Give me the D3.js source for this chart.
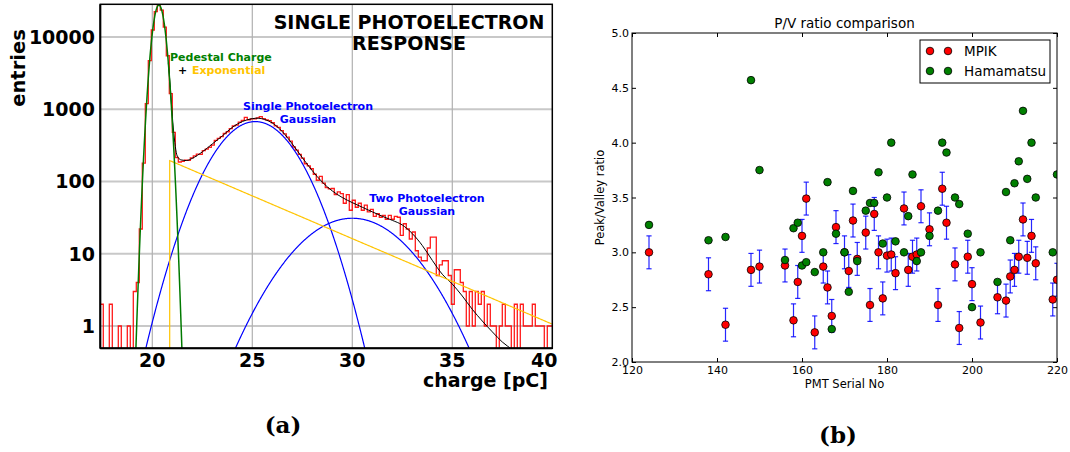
<!DOCTYPE html>
<html>
<head>
<meta charset="utf-8">
<script src="https://cdn.jsdelivr.net/npm/d3@7"></script>
<style>
  body { margin: 0; background: #fff; }
  svg { display: block; }
</style>
</head>
<body>
<svg id="fig" width="1070" height="452"></svg>
<script>
// ===== Panel (a): single photoelectron charge spectrum =====
const histLow = 17.4;          // pC, lower edge of first bin
const histBinWidth = 0.15;     // pC
const histCounts = [
  2, 0, 0, 2, 0, 0, 1, 0, 0, 1,
  0, 3, 4, 22, 180, 1200, 4700, 12500, 22500, 27700,
  23500, 13700, 5500, 1650, 480, 215, 186, 190, 198, 196,
  212, 226, 240, 238, 268, 280, 296, 318, 372, 396,
  418, 462, 488, 540, 590, 604, 662, 700, 770, 712,
  738, 735, 760, 790, 740, 712, 695, 650, 590, 560,
  505, 455, 410, 362, 300, 272, 238, 210, 176, 165,
  150, 126, 104, 118, 95, 82, 79, 80, 66, 72,
  68, 50, 66, 40, 55, 44, 50, 40, 47, 38,
  41, 33, 36, 32, 34, 30, 34, 30, 33, 32,
  18, 26, 22, 16, 20, 11, 9, 8, 8, 12,
  17, 17, 5, 7, 8, 8, 5, 2, 6, 6,
  4, 3, 1, 3, 1, 3, 2, 3, 1, 2,
  1, 1, 0, 1, 2, 1, 1, 0, 2, 0,
  2, 1, 1, 1, 2, 1, 1, 1, 0, 1, 1
];
const chargeTicks = [20, 25, 30, 35, 40];
const entryTicks = [1, 10, 100, 1000, 10000];

// fit components: Gaussians (amp, mean, sigma) and an exponential switched on at `start`
const pedestalFit = { amp: 27700, mean: 20.33, sigma: 0.2457 };
const singlePeFit = { amp: 675, mean: 25.15, sigma: 1.44 };
const doublePeFit = { amp: 31, mean: 30.0, sigma: 2.03 };
const expFit = { start: 20.87, amp: 195, slope: -0.2726 };

// combined fit function, [charge, entries]
const totalFit = [
  [20.8, 4400], [20.9, 2000], [21.0, 800], [21.1, 400], [21.2, 250], [21.3, 212],
  [21.45, 199], [21.7, 195], [22.0, 209], [22.5, 257], [23.0, 331], [23.5, 427],
  [24.0, 562], [24.5, 676], [25.0, 741], [25.3, 752], [25.6, 724], [26.0, 646],
  [26.5, 490], [27.0, 331], [27.5, 214], [28.0, 141], [28.5, 98], [29.0, 74],
  [29.5, 60], [30.0, 51], [30.5, 44], [31.0, 38], [31.5, 33], [32.0, 29],
  [32.5, 25], [33.0, 19], [33.5, 13], [34.0, 8.1], [34.5, 5.2], [35.0, 3.8],
  [35.5, 2.6], [36.0, 1.7], [36.5, 1.17], [37.0, 0.83], [37.5, 0.60], [38.0, 0.47],
  [38.5, 0.36]
];

// ===== Panel (b): peak/valley ratio per PMT =====
const serialTicks = [120, 140, 160, 180, 200, 220];
const ratioTicks = [2.0, 2.5, 3.0, 3.5, 4.0, 4.5, 5.0];

const mpikSerial = [124, 138, 142, 148, 150, 156, 158, 159, 160, 161, 163, 165, 166, 167, 168, 170,
  171, 172, 173, 175, 176, 177, 178, 179, 180, 181, 182, 184, 185, 186, 187, 188, 190, 192, 193,
  194, 196, 197, 199, 200, 202, 206, 208, 209, 210, 211, 212, 213, 214, 215, 219, 220];
const mpikRatio = [3.00, 2.80, 2.34, 2.84, 2.87, 2.88, 2.38, 2.73, 3.15, 3.49, 2.27, 2.87, 2.68, 2.42, 3.23, 3.00,
  2.83, 3.29, 2.94, 3.18, 2.52, 3.35, 3.00, 2.58, 2.97, 2.98, 2.81, 3.40, 2.84, 2.96, 2.98, 3.42, 3.21, 2.52, 3.58,
  3.27, 2.89, 2.31, 2.96, 2.71, 2.36, 2.59, 2.56, 2.78, 2.84, 2.96, 3.30, 2.95, 3.15, 2.90, 2.57, 2.75];
const mpikErr = mpikSerial.map(() => 0.15);

const hamaSerial = [124, 138, 142, 148, 150, 156, 158, 159, 160, 161, 163, 165, 166, 167, 168, 170,
  171, 172, 173, 175, 176, 177, 178, 179, 180, 181, 182, 184, 185, 186, 187, 188, 190, 192, 193,
  194, 196, 197, 199, 200, 202, 206, 208, 209, 210, 211, 212, 213, 214, 215, 219, 220];
const hamaRatio = [3.25, 3.11, 3.14, 4.57, 3.75, 2.93, 3.22, 3.27, 2.88, 2.91, 2.82, 3.00, 3.64, 2.30, 3.17, 3.00,
  2.64, 3.56, 2.92, 3.38, 3.45, 3.45, 3.73, 3.08, 3.50, 4.00, 3.10, 3.00, 3.33, 3.71, 2.92, 3.00, 3.15, 3.38, 4.00,
  3.91, 3.50, 3.44, 3.17, 2.50, 3.00, 2.73, 3.55, 3.11, 3.63, 3.83, 4.29, 3.67, 4.00, 3.50, 3.00, 3.71];

const svg = d3.select("#fig");

// ---------------- panel (a) ----------------
(function drawSpectrum() {
  const L = 100.3, R = 552.3, T = 4.3, B = 348.3;
  const x = d3.scaleLinear().domain([17.4, 40.0]).range([L, R]);
  const y = d3.scaleLog().domain([0.491, 28360]).range([B, T]);
  const floor = 0.3;
  const yc = v => y(Math.max(v, floor));

  const g = svg.append("g");
  g.append("clipPath").attr("id", "clipA")
    .append("rect").attr("x", L).attr("y", T).attr("width", R - L).attr("height", B - T);

  // grid
  g.selectAll("line.gy").data(entryTicks).join("line")
    .attr("x1", L).attr("x2", R).attr("y1", d => y(d)).attr("y2", d => y(d))
    .attr("stroke", "#c8c8c8").attr("stroke-width", 2);
  g.selectAll("line.gx").data(chargeTicks.filter(d => d < 40)).join("line")
    .attr("x1", d => x(d)).attr("x2", d => x(d)).attr("y1", T).attr("y2", B)
    .attr("stroke", "#b0b0b0").attr("stroke-width", 1.2);

  const plot = g.append("g").attr("clip-path", "url(#clipA)");

  // histogram outline
  let d = `M${x(histLow)},${B + 2}`;
  histCounts.forEach((c, i) => {
    const x0 = x(histLow + i * histBinWidth), x1 = x(histLow + (i + 1) * histBinWidth);
    const yy = c > 0 ? y(c) : B + 2;
    d += `L${x0},${yy}L${x1},${yy}`;
  });
  plot.append("path").attr("d", d).attr("fill", "none")
    .attr("stroke", "#ff0000").attr("stroke-width", 1.3).attr("stroke-opacity", 0.9);

  const line = d3.line().x(p => x(p[0])).y(p => yc(p[1]));
  const gauss = f => q => f.amp * Math.exp(-((q - f.mean) ** 2) / (2 * f.sigma * f.sigma));
  const grid = d3.range(17.4, 40.0001, 0.02);

  // total fit
  plot.append("path").datum(totalFit)
    .attr("d", d3.line().x(p => x(p[0])).y(p => yc(p[1])).curve(d3.curveMonotoneX))
    .attr("fill", "none").attr("stroke", "#000").attr("stroke-width", 1);

  // single and double photoelectron Gaussians
  [singlePeFit, doublePeFit].forEach(f => {
    plot.append("path").datum(grid.map(q => [q, gauss(f)(q)]))
      .attr("d", line).attr("fill", "none").attr("stroke", "#0000ff").attr("stroke-width", 1.2);
  });

  // exponential background, zero below its start
  const expPts = [[expFit.start, floor]].concat(
    d3.range(expFit.start, 40.0001, 0.05).map(q => [q, expFit.amp * Math.exp(expFit.slope * (q - expFit.start))]));
  plot.append("path").datum(expPts).attr("d", line)
    .attr("fill", "none").attr("stroke", "#ffc400").attr("stroke-width", 1.2);

  // pedestal Gaussian
  plot.append("path").datum(grid.map(q => [q, gauss(pedestalFit)(q)]))
    .attr("d", line).attr("fill", "none").attr("stroke", "#007a00").attr("stroke-width", 1.5);

  // frame
  g.append("rect").attr("x", L).attr("y", T).attr("width", R - L).attr("height", B - T)
    .attr("fill", "none").attr("stroke", "#000").attr("stroke-width", 1.5);
  g.append("line").attr("x1", L).attr("x2", L).attr("y1", T).attr("y2", B)
    .attr("stroke", "#000").attr("stroke-width", 2);
  g.append("line").attr("x1", L).attr("x2", R).attr("y1", B).attr("y2", B)
    .attr("stroke", "#000").attr("stroke-width", 2);

  const bold = "'DejaVu Sans', sans-serif";
  g.selectAll("text.ty").data(entryTicks).join("text")
    .attr("x", 95).attr("y", v => y(v)).attr("dy", "0.36em")
    .attr("text-anchor", "end").attr("font-family", bold).attr("font-weight", "bold")
    .attr("font-size", 19).text(v => v);
  g.selectAll("text.tx").data(chargeTicks).join("text")
    .attr("x", v => v === 40 ? x(v) - 8 : x(v)).attr("y", 367)
    .attr("text-anchor", "middle").attr("font-family", bold).attr("font-weight", "bold")
    .attr("font-size", 19).text(v => v);

  g.append("text").attr("transform", "translate(25,68) rotate(-90)")
    .attr("text-anchor", "middle").attr("font-family", bold).attr("font-weight", "bold")
    .attr("font-size", 19.5).text("entries");
  g.append("text").attr("x", 548).attr("y", 387).attr("text-anchor", "end")
    .attr("font-family", bold).attr("font-weight", "bold").attr("font-size", 19).text("charge [pC]");

  g.append("text").attr("x", 409).attr("y", 29).attr("text-anchor", "middle")
    .attr("font-family", bold).attr("font-weight", "bold").attr("font-size", 19).text("SINGLE PHOTOELECTRON");
  g.append("text").attr("x", 409).attr("y", 50).attr("text-anchor", "middle")
    .attr("font-family", bold).attr("font-weight", "bold").attr("font-size", 19).text("RESPONSE");

  const note = (tx, ty, s, col, anchor) => g.append("text").attr("x", tx).attr("y", ty)
    .attr("text-anchor", anchor || "start").attr("font-family", bold).attr("font-weight", "bold")
    .attr("font-size", 11).attr("fill", col).text(s);
  note(170, 61, "Pedestal Charge", "#008000");
  note(178, 74, "+", "#000");
  note(192, 74, "Exponential", "#ffc400");
  note(308, 110, "Single Photoelectron", "#0000ff", "middle");
  note(308, 123, "Gaussian", "#0000ff", "middle");
  note(427, 202, "Two Photoelectron", "#0000ff", "middle");
  note(427, 215, "Gaussian", "#0000ff", "middle");
})();

// ---------------- panel (b) ----------------
(function drawRatio() {
  const L = 632, R = 1057, T = 33, B = 362;
  const x = d3.scaleLinear().domain([120, 220]).range([L, R]);
  const y = d3.scaleLinear().domain([2, 5]).range([B, T]);
  const font = "'DejaVu Sans', sans-serif";
  const g = svg.append("g");

  g.append("clipPath").attr("id", "clipB")
    .append("rect").attr("x", L).attr("y", T).attr("width", R - L).attr("height", B - T);

  const fmt = d3.format(".1f");
  const axes = [
    g.append("g").attr("transform", `translate(0,${B})`)
      .call(d3.axisBottom(x).tickValues(serialTicks).tickSizeInner(-4).tickSizeOuter(0).tickPadding(4)),
    g.append("g").attr("transform", `translate(0,${T})`)
      .call(d3.axisTop(x).tickValues(serialTicks).tickSizeInner(-4).tickSizeOuter(0).tickFormat("")),
    g.append("g").attr("transform", `translate(${L},0)`)
      .call(d3.axisLeft(y).tickValues(ratioTicks).tickSizeInner(-4).tickSizeOuter(0).tickPadding(3).tickFormat(fmt)),
    g.append("g").attr("transform", `translate(${R},0)`)
      .call(d3.axisRight(y).tickValues(ratioTicks).tickSizeInner(-4).tickSizeOuter(0).tickFormat(""))
  ];
  axes.forEach(a => {
    a.select(".domain").remove();
    a.selectAll("text").attr("font-family", font).attr("font-size", 11).attr("fill", "#000");
    a.selectAll("line").attr("stroke", "#000");
  });

  const plot = g.append("g").attr("clip-path", "url(#clipB)");

  // error bars
  const eb = plot.append("g").attr("stroke", "#0000ff").attr("stroke-width", 1.2).attr("stroke-opacity", 0.85);
  mpikSerial.forEach((s, i) => {
    const cx = x(s), y0 = y(mpikRatio[i] - mpikErr[i]), y1 = y(mpikRatio[i] + mpikErr[i]);
    eb.append("line").attr("x1", cx).attr("x2", cx).attr("y1", y0).attr("y2", y1);
    eb.append("line").attr("x1", cx - 2.6).attr("x2", cx + 2.6).attr("y1", y0).attr("y2", y0);
    eb.append("line").attr("x1", cx - 2.6).attr("x2", cx + 2.6).attr("y1", y1).attr("y2", y1);
  });

  const r = 3.8;
  plot.selectAll("circle.m").data(mpikSerial).join("circle")
    .attr("cx", s => x(s)).attr("cy", (s, i) => y(mpikRatio[i])).attr("r", r)
    .attr("fill", "#ff0000").attr("stroke", "#000").attr("stroke-width", 0.8);
  plot.selectAll("circle.h").data(hamaSerial).join("circle")
    .attr("cx", s => x(s)).attr("cy", (s, i) => y(hamaRatio[i])).attr("r", r)
    .attr("fill", "#008000").attr("stroke", "#000").attr("stroke-width", 0.8);

  g.append("rect").attr("x", L).attr("y", T).attr("width", R - L).attr("height", B - T)
    .attr("fill", "none").attr("stroke", "#000").attr("stroke-width", 1);

  g.append("text").attr("x", (L + R) / 2).attr("y", 28).attr("text-anchor", "middle")
    .attr("font-family", font).attr("font-size", 13.5).text("P/V ratio comparison");
  g.append("text").attr("x", (L + R) / 2).attr("y", 388).attr("text-anchor", "middle")
    .attr("font-family", font).attr("font-size", 11.5).text("PMT Serial No");
  g.append("text").attr("transform", `translate(604,${(T + B) / 2}) rotate(-90)`).attr("text-anchor", "middle")
    .attr("font-family", font).attr("font-size", 11.5).text("Peak/Valley ratio");

  // legend
  const lg = g.append("g");
  lg.append("rect").attr("x", 920).attr("y", 40).attr("width", 130).attr("height", 43)
    .attr("fill", "#fff").attr("stroke", "#000").attr("stroke-width", 1);
  [["MPIK", "#ff0000", 51], ["Hamamatsu", "#008000", 71]].forEach(([name, col, ly]) => {
    [930, 948].forEach(mx => lg.append("circle").attr("cx", mx).attr("cy", ly).attr("r", r)
      .attr("fill", col).attr("stroke", "#000").attr("stroke-width", 0.8));
    lg.append("text").attr("x", 964).attr("y", ly).attr("dy", "0.36em")
      .attr("font-family", font).attr("font-size", 13.5).text(name);
  });
})();

// sub-figure captions
svg.append("text").attr("x", 283).attr("y", 433).attr("text-anchor", "middle")
  .attr("font-family", "'DejaVu Serif', serif").attr("font-weight", "bold").attr("font-size", 23).text("(a)");
svg.append("text").attr("x", 838).attr("y", 443).attr("text-anchor", "middle")
  .attr("font-family", "'DejaVu Serif', serif").attr("font-weight", "bold").attr("font-size", 23).text("(b)");
</script>
</body>
</html>
